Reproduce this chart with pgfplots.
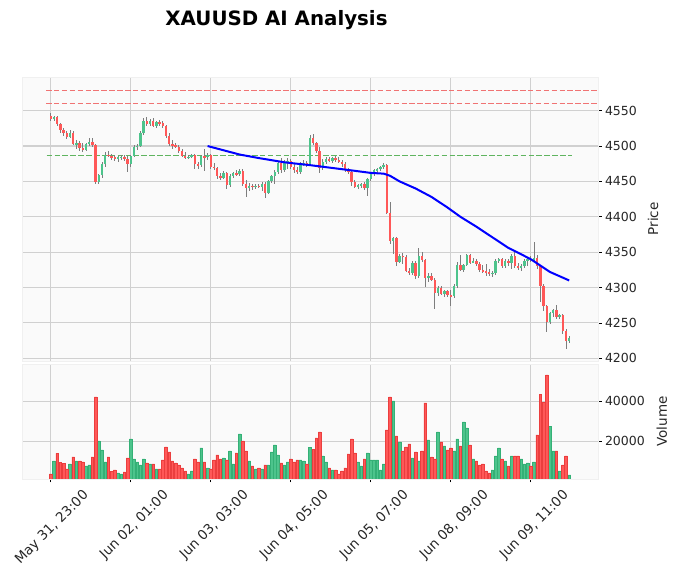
\documentclass[border=0pt]{standalone}
\usepackage{fontspec}
\setmainfont{DejaVu Sans}
\usepackage{pgfplots}
\usepackage{pgfplotstable}
\pgfplotsset{compat=1.18}

\definecolor{upc}{RGB}{77,196,140}
\definecolor{upd}{RGB}{52,176,118}
\definecolor{dnc}{RGB}{255,88,88}
\definecolor{dnd}{RGB}{235,62,62}
\definecolor{wickc}{RGB}{125,125,125}
\definecolor{gridc}{RGB}{208,208,208}
\definecolor{panelc}{RGB}{250,250,250}
\definecolor{hlred}{RGB}{240,115,115}
\definecolor{hlgreen}{RGB}{95,180,95}

% hourly candles: index, open, high, low, close, volume
\pgfplotstableread{
i o h l c v
0 4543 4546 4536 4538 3700
1 4538 4542 4535 4541 10200
2 4541 4542 4528 4531 14000
3 4531 4533 4519 4522 9500
4 4522 4525 4514 4518 9000
5 4518 4521 4510 4513 6200
6 4513 4522 4511 4519 8700
7 4519 4521 4501 4503 12200
8 4502 4509 4496 4505 10200
9 4505 4507 4493 4497 10200
10 4497 4505 4491 4495 9700
11 4495 4504 4493 4503 7700
12 4503 4511 4500 4506 8200
13 4506 4511 4499 4501 12200
14 4501 4503 4447 4449 42200
15 4449 4461 4447 4459 20200
16 4459 4478 4455 4474 15700
17 4474 4492 4470 4488 9700
18 4488 4493 4484 4486 12200
19 4486 4489 4480 4484 5000
20 4484 4488 4479 4481 5700
21 4481 4486 4478 4484 4200
22 4484 4488 4480 4485 3700
23 4485 4487 4479 4482 4700
24 4482 4486 4463 4474 11700
25 4474 4487 4471 4486 21200
26 4486 4501 4484 4499 11200
27 4499 4503 4495 4500 9700
28 4500 4521 4498 4518 8200
29 4518 4540 4516 4535 11200
30 4535 4541 4529 4531 9200
31 4531 4538 4528 4536 8700
32 4536 4539 4527 4529 8700
33 4529 4536 4526 4534 6200
34 4534 4537 4529 4532 6200
35 4532 4535 4526 4528 10700
36 4528 4530 4512 4514 17200
37 4514 4518 4500 4503 14700
38 4503 4508 4496 4501 10200
39 4501 4505 4497 4499 9200
40 4499 4502 4490 4493 8200
41 4493 4496 4484 4486 6700
42 4486 4491 4481 4484 5200
43 4484 4488 4482 4485 3700
44 4485 4489 4483 4487 5200
45 4487 4489 4468 4474 11200
46 4474 4478 4467 4473 9700
47 4473 4488 4470 4486 16700
48 4486 4496 4465 4484 9700
49 4484 4490 4480 4487 6700
50 4487 4489 4468 4471 6200
51 4471 4476 4466 4469 10700
52 4469 4471 4454 4457 13200
53 4457 4462 4452 4455 11200
54 4455 4465 4453 4462 11700
55 4462 4463 4439 4445 10700
56 4445 4460 4442 4458 15200
57 4458 4464 4455 4462 8700
58 4462 4466 4457 4460 14200
59 4460 4468 4458 4465 23700
60 4465 4467 4443 4446 20200
61 4446 4452 4428 4441 15200
62 4441 4448 4436 4444 10200
63 4444 4447 4438 4442 7700
64 4442 4446 4439 4444 6200
65 4444 4446 4440 4442 6700
66 4442 4449 4436 4447 6200
67 4447 4449 4427 4434 8200
68 4434 4452 4432 4450 8200
69 4450 4459 4448 4457 14700
70 4457 4466 4446 4464 18200
71 4464 4478 4460 4476 13200
72 4476 4483 4462 4466 9200
73 4466 4480 4464 4477 8200
74 4477 4483 4468 4479 9700
75 4479 4481 4468 4471 11200
76 4471 4474 4462 4466 9700
77 4466 4470 4460 4463 10700
78 4463 4477 4461 4475 10700
79 4475 4480 4472 4476 10200
80 4476 4479 4471 4474 8700
81 4474 4515 4472 4512 17000
82 4512 4517 4502 4504 16000
83 4504 4506 4490 4493 21700
84 4493 4498 4462 4469 24700
85 4469 4481 4466 4478 12700
86 4478 4484 4475 4482 9700
87 4482 4485 4477 4479 6700
88 4479 4484 4476 4483 5700
89 4483 4486 4477 4480 5700
90 4480 4484 4476 4478 3700
91 4478 4480 4470 4474 5200
92 4474 4477 4464 4466 6700
93 4466 4469 4461 4463 13700
94 4463 4465 4444 4449 21200
95 4449 4452 4440 4442 14200
96 4442 4447 4439 4445 9700
97 4445 4448 4440 4446 7700
98 4446 4449 4438 4441 11200
99 4441 4455 4430 4453 14200
100 4453 4462 4451 4460 10700
101 4460 4468 4458 4466 10700
102 4466 4469 4462 4467 10700
103 4467 4472 4465 4470 5700
104 4470 4476 4468 4473 8700
105 4473 4475 4404 4406 25700
106 4406 4421 4362 4366 42200
107 4366 4372 4348 4370 40200
108 4370 4372 4330 4336 22700
109 4336 4347 4334 4345 19700
110 4345 4349 4334 4343 15200
111 4343 4346 4322 4324 17200
112 4324 4328 4318 4321 18700
113 4321 4338 4318 4335 11700
114 4335 4337 4312 4316 14700
115 4316 4356 4314 4345 10200
116 4345 4350 4336 4339 15200
117 4339 4341 4301 4313 39200
118 4313 4320 4308 4317 20700
119 4317 4321 4309 4311 12200
120 4311 4313 4269 4292 11200
121 4292 4302 4288 4300 24700
122 4300 4302 4289 4291 19700
123 4291 4297 4286 4295 17700
124 4295 4297 4287 4289 15700
125 4289 4296 4274 4288 16700
126 4288 4305 4285 4302 15200
127 4302 4336 4300 4332 21200
128 4332 4346 4323 4325 17700
129 4325 4334 4322 4332 29700
130 4332 4348 4330 4346 26700
131 4346 4348 4333 4335 18200
132 4335 4342 4334 4338 11200
133 4338 4341 4331 4333 10200
134 4333 4336 4322 4325 8200
135 4325 4332 4320 4323 8700
136 4323 4333 4316 4322 5200
137 4322 4326 4317 4319 4200
138 4319 4324 4315 4321 5700
139 4321 4340 4318 4337 12700
140 4337 4342 4334 4340 16700
141 4340 4342 4327 4330 11200
142 4330 4340 4328 4338 10200
143 4338 4341 4331 4335 7700
144 4335 4347 4326 4344 12700
145 4344 4352 4328 4331 12700
146 4331 4335 4325 4328 12700
147 4328 4333 4324 4330 11200
148 4330 4341 4327 4338 8700
149 4338 4343 4330 4341 9200
150 4341 4344 4336 4339 7700
151 4339 4364 4336 4342 9700
152 4342 4346 4326 4330 23200
153 4330 4332 4280 4302 43300
154 4302 4305 4267 4274 39300
155 4274 4276 4237 4252 53200
156 4252 4266 4249 4264 27300
157 4264 4270 4259 4268 15200
158 4268 4275 4256 4259 15200
159 4259 4263 4256 4261 5200
160 4261 4262 4235 4239 8200
161 4239 4242 4213 4225 12700
162 4225 4231 4222 4229 3200
}\candles

% moving average
\pgfplotstableread{
i ma
49 4500
54 4494
59 4488
65 4483
73 4477
81 4473
88 4469
95 4465
100 4462
104 4461
106 4458
109 4450
114 4440
119 4428
124 4413
128 4400
133 4386
138 4371
143 4356
147 4347
150 4340
153 4331
156 4322
159 4316
162 4310
}\mavg

\pgfplotsset{
  panel/.style={
    scale only axis, width=576bp,
    xmin=-9, xmax=171,
    axis background/.style={fill=panelc},
    axis line style={draw=black!6},
    grid=major,
    major grid style={draw=gridc, line width=1.1bp},
    xtick={0,25,...,150},
    ytick pos=right, yticklabel pos=right,
    tick align=outside,
    major tick length=3.5bp,
    tick style={black, line width=0.8bp},
    ticklabel style={font=\fontsize{12.5bp}{15bp}\selectfont, text=black!85},
    label style={font=\fontsize{13.5bp}{16bp}\selectfont, text=black!85},
    /pgf/number format/assume math mode=true,
    /pgf/number format/set thousands separator={},
    scaled y ticks=false,
  },
  wick/.style={draw=none, mark=none, error bars/.cd, y dir=both, y explicit, error mark=none,
    error bar style={line width=0.9bp, draw=wickc, solid}},
  body/.style={draw=none, mark=none, error bars/.cd, y dir=both, y explicit, error mark=none,
    error bar style={line width=2.3bp, draw=#1, solid}},
}

\begin{document}
\begin{tikzpicture}[x=1bp,y=1bp]
\path[use as bounding box] (0,0) rectangle (679,579);

\node[font=\fontsize{19.8bp}{24bp}\selectfont\bfseries, anchor=base] at (276.5,553) {XAUUSD AI Analysis};

% price panel
\begin{axis}[panel, at={(22bp,218bp)}, anchor=south west, height=284bp,
  ymin=4196.2, ymax=4597.6,
  ytick={4200,4250,...,4550},
  xticklabels={}, xtick style={draw=none},
  ylabel={Price},
  ylabel style={at={(axis description cs:1.0955,0.5)}, anchor=center}]

  \addplot[hlred, line width=1.1bp, dash pattern=on 5.5bp off 2.4bp] coordinates {(-1.5,4579) (171,4579)};
  \addplot[hlred, line width=1.1bp, dash pattern=on 5.5bp off 2.4bp] coordinates {(-1.5,4559.5) (171,4559.5)};
  \addplot[hlgreen, line width=1.2bp, dash pattern=on 5.5bp off 2.4bp] coordinates {(-1.3,4487) (163,4487)};

  \addplot[wick]
    table[x=i, y expr={(\thisrow{h}+\thisrow{l})/2}, y error expr={(\thisrow{h}-\thisrow{l})/2}] {\candles};
  \addplot[body=upc]
    table[x=i, y expr={\thisrow{c}>=\thisrow{o} ? (\thisrow{o}+\thisrow{c})/2 : nan}, y error expr={(\thisrow{c}-\thisrow{o})/2}] {\candles};
  \addplot[body=dnc]
    table[x=i, y expr={\thisrow{c}<\thisrow{o} ? (\thisrow{o}+\thisrow{c})/2 : nan}, y error expr={(\thisrow{o}-\thisrow{c})/2}] {\candles};

  \addplot[draw=blue, line width=2bp] table[x=i, y=ma] {\mavg};
\end{axis}

% volume panel
\begin{axis}[panel, at={(22bp,100bp)}, anchor=south west, height=115bp,
  ymin=1150, ymax=58650,
  ytick={20000,40000},
  xtick pos=bottom,
  xticklabels={{May 31, 23:00},{Jun 02, 01:00},{Jun 03, 03:00},{Jun 04, 05:00},{Jun 05, 07:00},{Jun 08, 09:00},{Jun 09, 11:00}},
  xticklabel style={font=\fontsize{13.5bp}{16bp}\selectfont, xshift=31bp, yshift=-6bp, rotate=45, anchor=north east, inner sep=0pt},
  ylabel={Volume},
  ylabel style={at={(axis description cs:1.111,0.5)}, anchor=center}]

  \addplot[ybar, bar width=0.82, fill=upc, draw=upd, line width=0.5bp]
    table[x=i, y expr={\thisrow{c}>=\thisrow{o} ? \thisrow{v} : nan}] {\candles};
  \addplot[ybar, bar width=0.82, fill=dnc, draw=dnd, line width=0.5bp]
    table[x=i, y expr={\thisrow{c}<\thisrow{o} ? \thisrow{v} : nan}] {\candles};
\end{axis}
\end{tikzpicture}
\end{document}
